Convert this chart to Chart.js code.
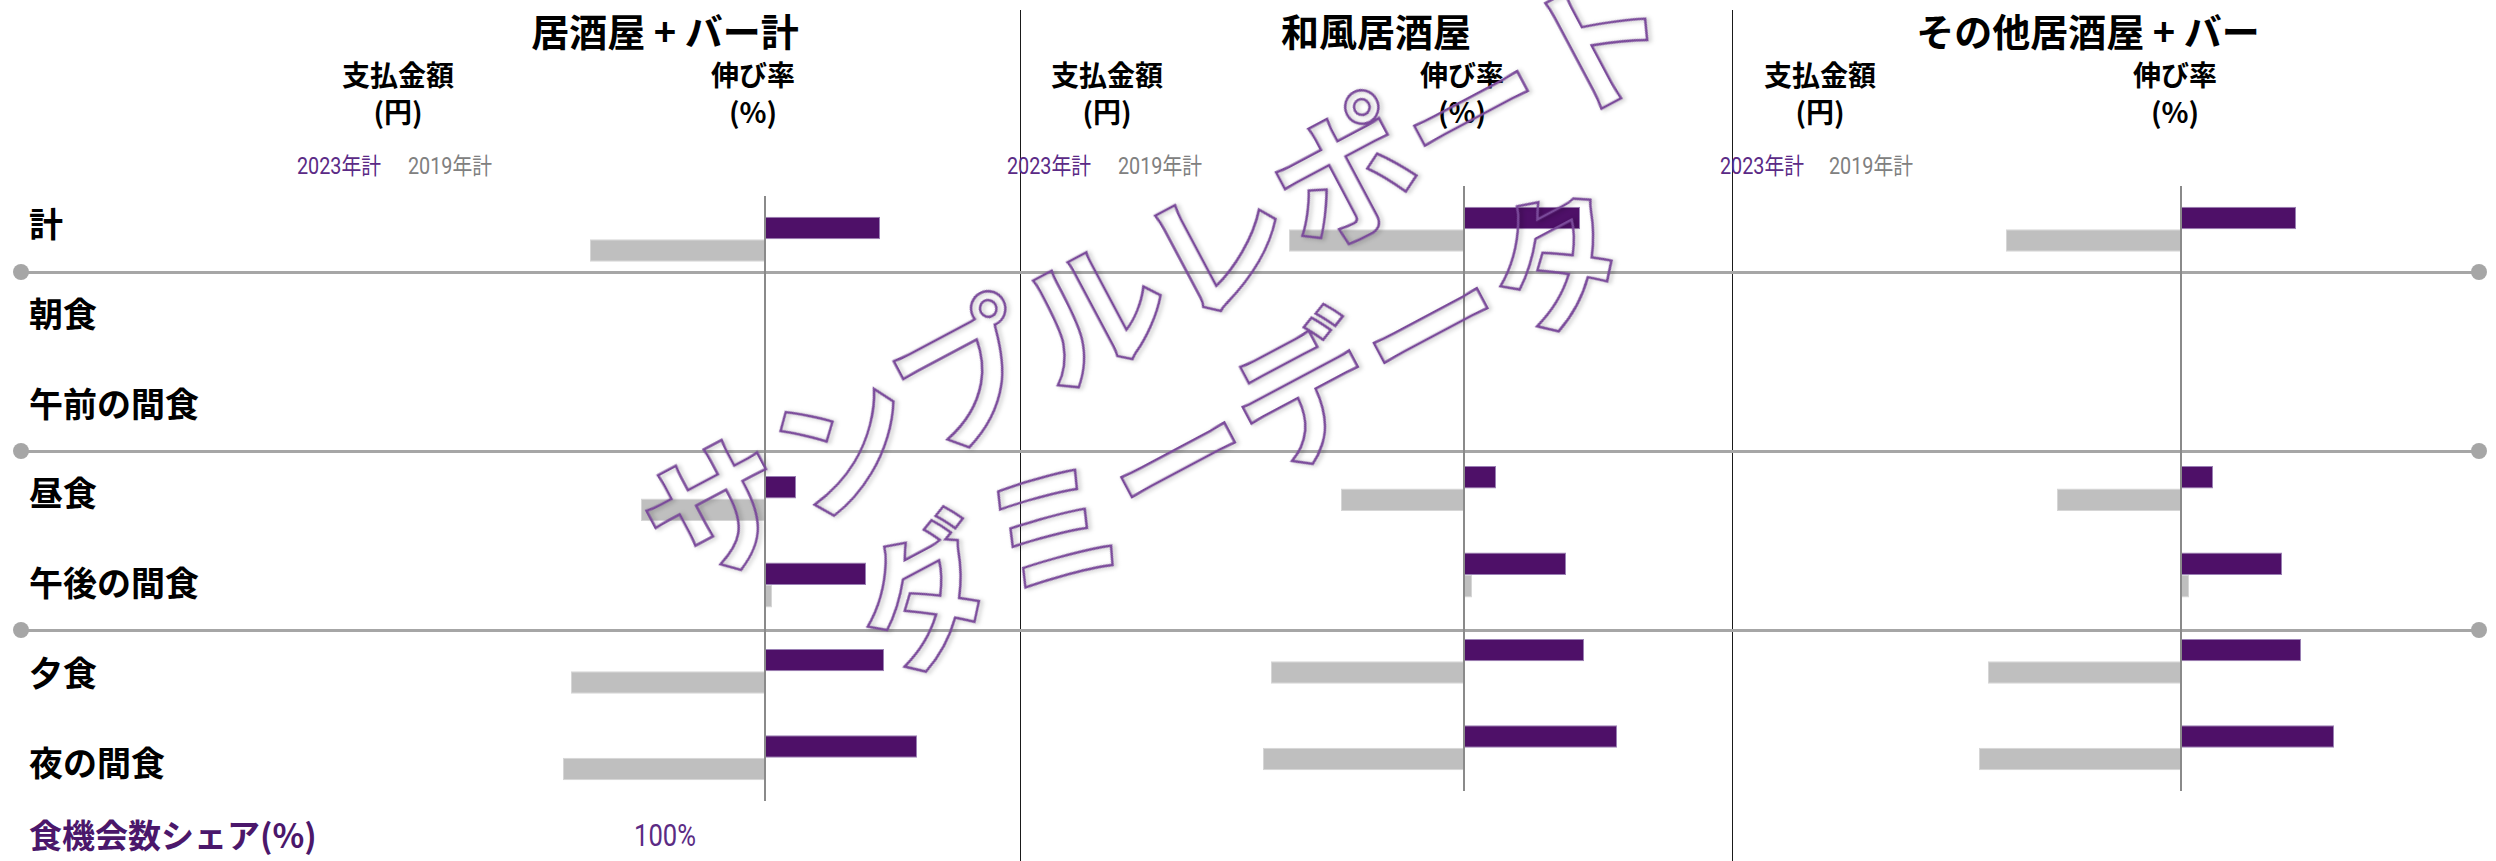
<!DOCTYPE html>
<html lang="ja">
<head>
<meta charset="utf-8">
<script src="https://cdn.jsdelivr.net/npm/chart.js@4.4.1/dist/chart.umd.min.js"></script>
<style>
  html, body { margin:0; padding:0; background:#ffffff; }
  body { width:2496px; height:861px; position:relative; overflow:hidden;
         font-family:"Noto Sans CJK JP","Noto Sans",sans-serif; color:#000; }
  .abs { position:absolute; white-space:nowrap; line-height:1; }
  .c { transform:translate(-50%,-50%); }
  .l { transform:translateY(-50%); }
  .title { font-weight:700; font-size:38px; }
  .hdr { font-weight:700; font-size:28px; }
  .leg { font-family:"Roboto","Noto Sans CJK JP",sans-serif; font-size:23px; transform-origin:left center; transform:translateY(-50%) scaleX(0.86); }
  .row { font-weight:700; font-size:34px; }
  .share { font-weight:700; font-size:33px; color:#4b176b; }
  .shareVal { font-family:"Roboto","Noto Sans CJK JP",sans-serif; font-size:32px; color:#5b2b84; transform-origin:left center; transform:translateY(-50%) scaleX(0.8); }
  .sep { position:absolute; height:3px; background:#a6a6a6; }
  .dot { position:absolute; width:16px; height:16px; border-radius:50%; background:#a6a6a6; }
  .vdiv { position:absolute; width:1px; background:#1a1a1a; }
  .wm { position:absolute; white-space:nowrap; line-height:1; font-weight:700; font-size:143px;
        color:transparent; -webkit-text-stroke:2.5px #7a4a9a;
        filter:drop-shadow(2px 2px 2px rgba(0,0,0,0.25));
        transform:translate(-50%,-50%) rotate(-28deg); pointer-events:none; z-index:10; }
  canvas { position:absolute; }
</style>
</head>
<body>
<script>
// ---------- DATA ----------
const categories = ['計', '朝食', '午前の間食', '昼食', '午後の間食', '夕食', '夜の間食'];
const seriesNames = ['2023年計', '2019年計'];
const panelTitles = ['居酒屋 + バー計', '和風居酒屋', 'その他居酒屋 + バー'];
const columnHeaders = [['支払金額', '(円)'], ['伸び率', '(%)']];
// growth-rate bars (%) per panel
const izakayaBar2023 = [11.5, null, null, 3.1, 10.1, 11.9, 15.2];
const izakayaBar2019 = [-17.5, null, null, -12.4, 0.7, -19.4, -20.2];
const washoku2023 = [11.6, null, null, 3.2, 10.2, 12.0, 15.3];
const washoku2019 = [-17.5, null, null, -12.3, 0.8, -19.3, -20.1];
const other2023 = [11.5, null, null, 3.2, 10.1, 12.0, 15.3];
const other2019 = [-17.5, null, null, -12.4, 0.8, -19.3, -20.2];
const axisMin = -25;
const axisMax = 25;
const shareLabel = '食機会数シェア(%)';
const shareValue = '100%';
const watermarkLines = ['サンプルレポート', 'ダミーデータ'];

// ---------- LAYOUT ----------
const COLORS = { s2023: '#4e1068', s2023Border: '#9a80b4', s2019: '#bfbfbf', s2019Border: '#d6d6d6',
                 zero: '#8a8a8a', leg2023: '#5b2a86', leg2019: '#808080' };
const panels = [
  { title: panelTitles[0], a: izakayaBar2023, b: izakayaBar2019, zeroX: 765, top: 196, titleX: 665, amtX: 398, rateX: 753, legX: [297, 408] },
  { title: panelTitles[1], a: washoku2023, b: washoku2019, zeroX: 1464, top: 186, titleX: 1376, amtX: 1107, rateX: 1462, legX: [1007, 1118] },
  { title: panelTitles[2], a: other2023, b: other2019, zeroX: 2181, top: 186, titleX: 2088, amtX: 1820, rateX: 2175, legX: [1720, 1829] }
];
const CANVAS_W = 500, CANVAS_H = 605;

function addText(txt, cls, x, y, color) {
  const d = document.createElement('div');
  d.className = 'abs ' + cls;
  d.textContent = txt;
  d.style.left = x + 'px';
  d.style.top = y + 'px';
  if (color) d.style.color = color;
  document.body.appendChild(d);
  return d;
}

// vertical dividers
[1020, 1732].forEach(x => {
  const v = document.createElement('div');
  v.className = 'vdiv';
  v.style.left = x + 'px'; v.style.top = '10px'; v.style.height = '851px';
  document.body.appendChild(v);
});

// horizontal separators with end dots
[272, 451, 630].forEach(y => {
  const s = document.createElement('div');
  s.className = 'sep';
  s.style.left = '21px'; s.style.width = (2479 - 21) + 'px'; s.style.top = (y - 1.5) + 'px';
  document.body.appendChild(s);
  [21, 2479].forEach(x => {
    const d = document.createElement('div');
    d.className = 'dot';
    d.style.left = (x - 8) + 'px'; d.style.top = (y - 8) + 'px';
    document.body.appendChild(d);
  });
});

// row labels
categories.forEach((c, i) => addText(c, 'row l', 29, 223 + i * 89.8));
addText(shareLabel, 'share l', 29, 834);
addText(shareValue, 'shareVal', 634, 835);

const zeroLinePlugin = {
  id: 'zeroLine',
  afterDatasetsDraw(chart) {
    const { ctx, chartArea, scales } = chart;
    const px = scales.x.getPixelForValue(0);
    ctx.save();
    ctx.strokeStyle = COLORS.zero;
    ctx.lineWidth = 2;
    ctx.beginPath();
    ctx.moveTo(px, chartArea.top);
    ctx.lineTo(px, chartArea.bottom);
    ctx.stroke();
    ctx.restore();
  }
};

panels.forEach(p => {
  addText(p.title, 'title c', p.titleX, 30);
  addText(columnHeaders[0][0], 'hdr c', p.amtX, 74);
  addText(columnHeaders[0][1], 'hdr c', p.amtX, 111);
  addText(columnHeaders[1][0], 'hdr c', p.rateX, 74);
  addText(columnHeaders[1][1], 'hdr c', p.rateX, 111);
  addText(seriesNames[0], 'leg', p.legX[0], 166, COLORS.leg2023);
  addText(seriesNames[1], 'leg', p.legX[1], 166, COLORS.leg2019);

  const cv = document.createElement('canvas');
  cv.width = CANVAS_W; cv.height = CANVAS_H;
  cv.style.left = (p.zeroX - CANVAS_W / 2) + 'px';
  cv.style.top = p.top + 'px';
  cv.style.width = CANVAS_W + 'px'; cv.style.height = CANVAS_H + 'px';
  document.body.appendChild(cv);

  new Chart(cv.getContext('2d'), {
    type: 'bar',
    data: {
      labels: categories,
      datasets: [
        { label: seriesNames[0], data: p.a, backgroundColor: COLORS.s2023, borderColor: COLORS.s2023Border, borderWidth: 1 },
        { label: seriesNames[1], data: p.b, backgroundColor: COLORS.s2019, borderColor: COLORS.s2019Border, borderWidth: 1 }
      ]
    },
    options: {
      indexAxis: 'y',
      responsive: false,
      animation: false,
      devicePixelRatio: 1,
      layout: { padding: 0 },
      datasets: { bar: { categoryPercentage: 0.52, barPercentage: 1.0 } },
      scales: {
        x: { display: false, min: axisMin, max: axisMax },
        y: { display: false }
      },
      plugins: { legend: { display: false }, tooltip: { enabled: false } }
    },
    plugins: [zeroLinePlugin]
  });
});

// watermark
const wm1 = addText(watermarkLines[0], '', 0, 0); wm1.className = 'wm'; wm1.style.left = '1154px'; wm1.style.top = '269px';
const wm2 = addText(watermarkLines[1], '', 0, 0); wm2.className = 'wm'; wm2.style.left = '1238px'; wm2.style.top = '420px';
</script>
</body>
</html>
